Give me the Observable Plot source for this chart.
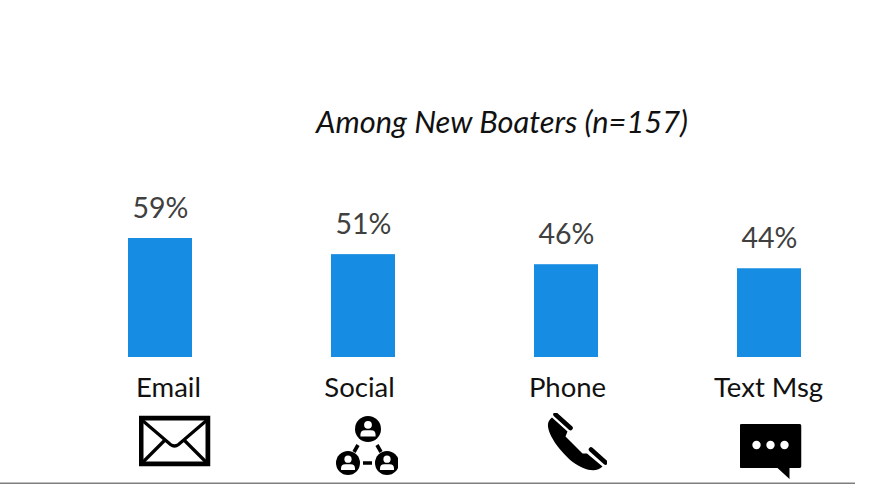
<!DOCTYPE html>
<html>
<head>
<meta charset="utf-8">
<script src="https://cdn.jsdelivr.net/npm/d3@7"></script>
<script src="https://cdn.jsdelivr.net/npm/@observablehq/plot@0.6"></script>
<style>
html,body{margin:0;padding:0;background:#fff;overflow:hidden}
svg{display:block}
</style>
</head>
<body>
<div id="chart"></div>
<script>
const categories = ["Email", "Social", "Phone", "Text Msg"];
const shares = [59, 51, 46, 44];
const shareLabels = ["59%", "51%", "46%", "44%"];
const chartTitle = "Among New Boaters (n=157)";

const svgUri = (w, h, body) => "data:image/svg+xml," + encodeURIComponent(
  `<svg xmlns="http://www.w3.org/2000/svg" viewBox="0 0 ${w} ${h}" width="${w}" height="${h}">${body}</svg>`);

const person = (cx, cy, r) => `<circle cx="${cx}" cy="${cy}" r="${r}" fill="#000"/>
  <circle cx="${cx}" cy="${cy - r * .32}" r="${r * .3}" fill="#fff"/>
  <path d="M${cx - r * .58} ${cy + r * .58}v${-r * .15}q0 ${-r * .33} ${r * .35} ${-r * .33}h${r * .46}q${r * .35} 0 ${r * .35} ${r * .33}v${r * .15}z" fill="#fff"/>`;

const icons = [
  svgUri(72, 51, `<rect x="2.5" y="2.5" width="67" height="46" fill="#fff" stroke="#000" stroke-width="5"/>
    <path d="M4 5L32 29Q36 32 40 29L68 5M4 47L26 25M68 47L46 25" fill="none" stroke="#000" stroke-width="3.2"/>`),
  svgUri(62, 60, person(32, 13, 13) + person(12, 47, 12) + person(51, 47, 12) +
    `<path d="M22 29L18 36M41 29L45 36M27 47H36" stroke="#000" stroke-width="3.6" fill="none"/>`),
  svgUri(60, 60, `<path d="M5 4.5L20.5 18.5L18.5 23.5L35.5 40.5L40 40.5L55.5 53.5C50 59.5 38 58.5 25 48.5C11 36.5 0 20 1 11C1 9 3 6 5 4.5Z" fill="#000"/>
    <path d="M8.5 1.5L23.5 15M44 36.5L58.5 49.5" stroke="#000" stroke-width="4.6" stroke-linecap="round" fill="none"/>`),
  svgUri(62, 56, `<path d="M2 0H60Q62 0 62 2V42Q62 44 60 44H50V55L38 44H2Q0 44 0 42V2Q0 0 2 0Z" fill="#000"/>
    <circle cx="17" cy="21" r="4.2" fill="#fff"/><circle cx="31" cy="21" r="4.2" fill="#fff"/><circle cx="45" cy="21" r="4.2" fill="#fff"/>`)
];
// Layout: per-label and per-icon nudges from each bar's centre, as drawn in the original.
const labelDx = [8, -4, 1, -1];
const iconDx = [14, 3.5, 10.5, 1];
const iconDy = [83.5, 88.5, 85.5, 94.5];
const iconSize = [[72, 51], [62, 60], [60, 60], [62, 56]];

const FONT = "Lato, 'Open Sans', sans-serif";
const table = categories.map((c, i) => ({category: c, share: shares[i], label: shareLabels[i]}));

const plot = Plot.plot({
  width: 872,
  height: 484,
  marginLeft: 0,
  marginRight: 17,
  marginTop: 0,
  marginBottom: 0,
  style: {background: "#fff", fontFamily: FONT},
  x: {domain: categories, range: [127.5, 802], paddingInner: 0.687, paddingOuter: 0, axis: null},
  y: {domain: [0, 59], range: [357, 238], axis: null},
  marks: [
    Plot.barY(table, {x: "category", y: "share", fill: "#168ce2"}),
    Plot.text(table, {x: "category", y: "share", text: "label", dy: -30, fontSize: 28.5, fill: "#404040", lineAnchor: "middle"}),
    ...categories.map((c, i) => Plot.text([c], {x: d => d, y: () => 0, dx: labelDx[i], dy: 31, text: d => d, fontSize: 27.5, fill: "#111", lineAnchor: "middle"})),
    ...categories.map((c, i) => Plot.image([c], {x: d => d, y: () => 0, dx: iconDx[i], dy: iconDy[i], src: () => icons[i], width: iconSize[i][0], height: iconSize[i][1]})),
    Plot.ruleY([0], {dy: 126, stroke: "#7f7f7f", strokeWidth: 2}),
    Plot.text([chartTitle], {x: () => categories[1], y: () => 59, text: d => d, dx: 138.5, dy: -115, fontSize: 30.8, fontStyle: "italic", fill: "#111", lineAnchor: "middle"})
  ]
});
document.getElementById("chart").appendChild(plot);
</script>
</body>
</html>
